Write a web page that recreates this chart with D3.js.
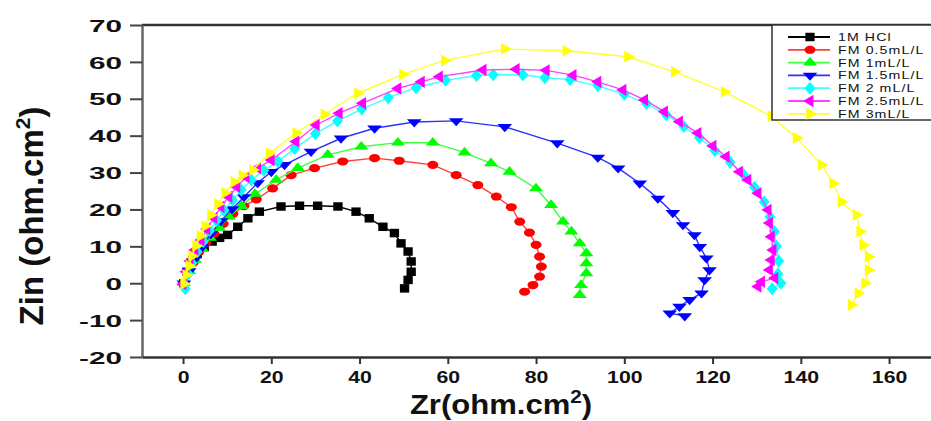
<!DOCTYPE html>
<html>
<head>
<meta charset="utf-8">
<script src="https://cdn.jsdelivr.net/npm/d3@7"></script>
<style>
  body { margin: 0; background: #fff; }
  svg { display: block; font-family: "Liberation Sans", Arial, sans-serif; }
</style>
</head>
<body>
<svg id="chart" width="931" height="421"></svg>
<script>
// Nyquist data, [Zr, Zin] in ohm.cm2
var hcl = [[0.2,0],[0.9,3.1],[1.8,5.6],[3.2,7.9],[4.8,9.8],[6.6,11.3],[8.3,12.3],[10.1,13.1],[12.4,15.3],
  [14.7,17.6],[17.3,19.4],[22.2,20.8],[26.4,21.0],[30.5,21.0],[35.1,20.8],[39.2,19.4],[42.2,17.6],
  [45.3,15.3],[47.9,13.6],[49.4,10.8],[51.0,8.6],[51.7,5.9],[51.7,3.1],[51.0,0.9],[50.2,-1.4]];
var fm05 = [[0.2,0],[1.1,3.1],[2.3,5.6],[3.6,8.5],[5.2,10.9],[7.0,13.4],[9.1,16.1],[11.3,18.8],[13.8,20.9],
  [16.6,22.7],[20.3,25.7],[24.5,29.3],[29.8,31.2],[36.2,33.0],[43.4,33.9],[49.0,33.2],[56.6,32.1],
  [61.9,29.3],[66.8,26.6],[71.0,23.5],[74.4,20.6],[76.3,16.7],[78.5,13.7],[80.0,10.4],[80.8,7.2],
  [81.2,4.5],[80.8,1.8],[79.3,-0.5],[77.4,-2.3]];
var fm1 = [[0.2,0],[1.4,3.3],[2.7,6.3],[4.3,9.3],[6.1,12.3],[8.2,15.0],[10.4,18.0],[13.2,20.9],[16.3,24.2],
  [21.1,28.0],[26.0,31.2],[32.8,34.8],[40.4,37.0],[48.7,38.1],[56.6,38.1],[63.8,35.4],[69.8,32.5],
  [74.0,30.2],[80.0,25.7],[83.4,21.2],[86.1,16.7],[88.0,14.0],[89.9,10.8],[91.4,8.1],[91.4,5.4],
  [91.4,2.7],[90.2,-0.5],[89.9,-3.2]];
var fm15 = [[0.2,0],[1.4,3.3],[2.7,6.6],[4.3,9.8],[6.3,13.4],[8.6,16.9],[11.1,20.1],[13.8,23.4],[16.9,27.2],
  [20.0,30.2],[23.0,32.1],[29.0,35.7],[35.8,39.3],[43.4,42.0],[52.4,43.7],[61.9,44.0],[72.9,42.4],
  [84.8,38.0],[94.0,34.1],[98.6,31.2],[103.5,27.1],[107.6,23.0],[111.0,19.1],[113.3,15.8],[115.9,13.1],
  [117.1,9.9],[118.6,6.8],[119.3,3.6],[118.2,0.9],[117.5,-2.7],[114.8,-4.5],[112.5,-6.3],[110.3,-8.1],
  [113.7,-8.9]];
var fm2 = [[0.5,-1.5],[1.2,2.5],[2.0,5.5],[3.2,8.5],[4.6,11.3],[6.0,14.2],[7.6,17.0],[9.3,19.8],[11.2,22.5],
  [13.2,25.3],[15.5,28.0],[18.3,30.6],[21.5,33.0],[25.3,36.5],[30.0,40.5],[35.0,44.0],[40.5,47.2],
  [46.5,50.3],[52.8,53.0],[59.5,55.0],[66.5,56.3],[70.3,56.5],[77.0,56.5],[82.0,55.7],[87.7,55.2],
  [94.0,53.5],[100.0,51.2],[105.0,48.7],[109.5,45.7],[113.5,42.5],[117.0,39.5],[120.5,36.0],[124.0,32.8],
  [127.0,29.5],[129.5,26.0],[131.7,22.0],[133.0,18.0],[134.0,14.0],[134.5,10.0],[135.0,6.0],[134.8,2.5],
  [135.5,0.0],[133.5,-1.5]];
var fm25 = [[0,-0.2],[0.7,3.1],[1.6,6.0],[2.7,9.0],[4.1,11.7],[5.4,14.7],[7.0,17.7],[8.6,20.7],[10.4,23.4],
  [12.2,26.1],[14.3,28.8],[16.9,31.2],[20.0,33.4],[25.6,38.4],[30.2,42.9],[35.4,46.1],[40.7,48.8],
  [48.7,52.8],[54.0,54.6],[58.1,56.0],[68.0,57.8],[75.5,58.0],[82.3,57.7],[88.4,56.4],[94.0,54.6],
  [99.7,52.4],[104.6,49.7],[109.1,46.5],[112.5,43.8],[116.7,40.7],[120.1,37.2],[123.1,34.3],[126.1,30.2],
  [128.0,28.0],[130.3,24.4],[132.6,19.9],[132.9,16.3],[133.3,12.6],[133.7,9.0],[133.3,6.3],[132.9,3.6],
  [134.1,1.4],[131.1,0.4],[130.3,-0.9]];
var fm3 = [[0.2,-0.2],[0.7,2.2],[1.4,4.7],[2.0,7.4],[2.9,10.1],[3.9,12.8],[5.0,15.5],[6.3,18.5],[7.9,21.5],
  [9.5,24.5],[11.6,27.5],[13.4,29.3],[15.8,30.7],[19.6,35.2],[25.6,40.7],[32.0,45.8],[39.6,51.5],
  [49.8,56.6],[59.3,60.4],[72.9,63.5],[86.8,63.0],[100.8,61.4],[111.4,57.3],[122.7,51.9],[133.3,45.3],
  [139.0,39.4],[144.7,32.1],[147.3,27.1],[149.2,22.1],[152.6,18.5],[153.4,14.0],[154.1,10.4],[155.3,7.2],
  [155.3,3.6],[154.5,0.0],[153.0,-2.7],[151.5,-5.9]];

var seriesNames = ["1M HCl", "FM 0.5mL/L", "FM 1mL/L", "FM 1.5mL/L", "FM 2 mL/L", "FM 2.5mL/L", "FM 3mL/L"];
var seriesData = [hcl, fm05, fm1, fm15, fm2, fm25, fm3];
var seriesColors = ["#000000", "#ff0000", "#00ff00", "#0000ff", "#00ffff", "#ff00ff", "#ffff00"];
var lineColors = ["#000000", "#ff4040", "#40ff40", "#3030ff", "#40ffff", "#ff40ff", "#ffff30"];
var xTicks = [0, 20, 40, 60, 80, 100, 120, 140, 160];
var yTicks = [-20, -10, 0, 10, 20, 30, 40, 50, 60, 70];

var svg = d3.select("#chart"),
    plotL = 142, plotR = 931, plotT = 25, plotB = 357;

var x = d3.scaleLinear().domain([-9.3, 169.5]).range([plotL, plotR]),
    y = d3.scaleLinear().domain([-20, 70]).range([plotB, plotT]);

// marker shapes: symbol, rotation, x/y squash
var markers = [
  {type: d3.symbolSquare, size: 72, rot: 0, sx: 1.1, sy: 1.0},
  {type: d3.symbolCircle, size: 72, rot: 0, sx: 1.15, sy: 0.85},
  {type: d3.symbolTriangle, size: 60, rot: 0, sx: 1.2, sy: 0.85},
  {type: d3.symbolTriangle, size: 60, rot: 180, sx: 1.25, sy: 0.8},
  {type: d3.symbolDiamond, size: 60, rot: 0, sx: 1.3, sy: 0.9},
  {type: d3.symbolTriangle, size: 60, rot: -90, sx: 1.0, sy: 1.05},
  {type: d3.symbolTriangle, size: 60, rot: 90, sx: 1.05, sy: 1.0}
];

// frame top line
svg.append("line").attr("x1", plotL).attr("x2", plotR).attr("y1", plotT).attr("y2", plotT)
  .attr("stroke", "#333").attr("stroke-width", 2.5);

// y axis
var yAxis = svg.append("g").attr("transform", "translate(" + plotL + ",0)")
  .call(d3.axisLeft(y).tickValues(yTicks).tickSize(12).tickSizeOuter(0));
yAxis.select(".domain").attr("stroke", "#666").attr("stroke-width", 2.5);
yAxis.selectAll(".tick line").attr("stroke", "#444").attr("stroke-width", 2);
yAxis.selectAll(".tick text")
  .attr("x", -20 / 1.75).attr("dy", "0.36em")
  .attr("transform", "scale(1.75,1)")
  .attr("font-size", 17).attr("font-weight", "bold").attr("fill", "#111")
  .attr("font-family", "'Liberation Sans', Arial, sans-serif")
  .text(function (d) { return d < 0 ? "-" + Math.abs(d) : d; });

// x axis
var xAxis = svg.append("g").attr("transform", "translate(0," + plotB + ")")
  .call(d3.axisBottom(x).tickValues(xTicks).tickSize(7).tickSizeOuter(0));
xAxis.select(".domain").attr("stroke", "#333").attr("stroke-width", 2.5);
xAxis.selectAll(".tick line").attr("stroke", "#333").attr("stroke-width", 2);
xAxis.selectAll(".tick text")
  .attr("y", 14).attr("dy", "0.71em")
  .attr("transform", "scale(1.25,1)")
  .attr("font-size", 17).attr("font-weight", "bold").attr("fill", "#111")
  .attr("font-family", "'Liberation Sans', Arial, sans-serif");

// axis titles
var yTitle = svg.append("text")
  .attr("transform", "translate(43,216) rotate(-90)")
  .attr("text-anchor", "middle").attr("font-size", 33).attr("font-weight", "bold").attr("fill", "#111");
yTitle.append("tspan").text("Zin (ohm.cm");
yTitle.append("tspan").attr("font-size", 21).attr("dy", -13).text("2");
yTitle.append("tspan").attr("dy", 13).text(")");

var xTitle = svg.append("text")
  .attr("transform", "translate(501,414) scale(1.15,1)")
  .attr("text-anchor", "middle").attr("font-size", 27).attr("font-weight", "bold").attr("fill", "#111");
xTitle.append("tspan").text("Zr(ohm.cm");
xTitle.append("tspan").attr("font-size", 18).attr("dy", -11).text("2");
xTitle.append("tspan").attr("dy", 11).text(")");

function markerTransform(m, px, py) {
  return "translate(" + px + "," + py + ") scale(" + m.sx + "," + m.sy + ") rotate(" + m.rot + ")";
}

var line = d3.line().x(function (d) { return x(d[0]); }).y(function (d) { return y(d[1]); });

var plot = svg.append("g");
seriesData.forEach(function (data, i) {
  var g = plot.append("g");
  g.append("path").datum(data).attr("d", line)
    .attr("fill", "none").attr("stroke", lineColors[i]).attr("stroke-width", 1.4);
  var sym = d3.symbol().type(markers[i].type).size(markers[i].size);
  g.selectAll("path.pt").data(data).enter().append("path")
    .attr("class", "pt").attr("d", sym)
    .attr("fill", seriesColors[i])
    .attr("transform", function (d) { return markerTransform(markers[i], x(d[0]), y(d[1])); });
});

// legend
var lg = svg.append("g");
lg.append("rect").attr("x", 772).attr("y", plotT).attr("width", 170).attr("height", 95)
  .attr("fill", "#fff").attr("stroke", "#333").attr("stroke-width", 1.5);
seriesNames.forEach(function (name, i) {
  var ry = 37 + i * 12.8;
  lg.append("line").attr("x1", 788).attr("x2", 830).attr("y1", ry).attr("y2", ry)
    .attr("stroke", lineColors[i]).attr("stroke-width", 1.8);
  lg.append("path").attr("d", d3.symbol().type(markers[i].type).size(markers[i].size))
    .attr("fill", seriesColors[i])
    .attr("transform", markerTransform(markers[i], 810, ry));
  lg.append("text").attr("transform", "translate(838," + (ry + 4) + ") scale(1.35,1)")
    .attr("font-size", 10.5).attr("letter-spacing", 0.8).attr("fill", "#111").text(name);
});
</script>
</body>
</html>
